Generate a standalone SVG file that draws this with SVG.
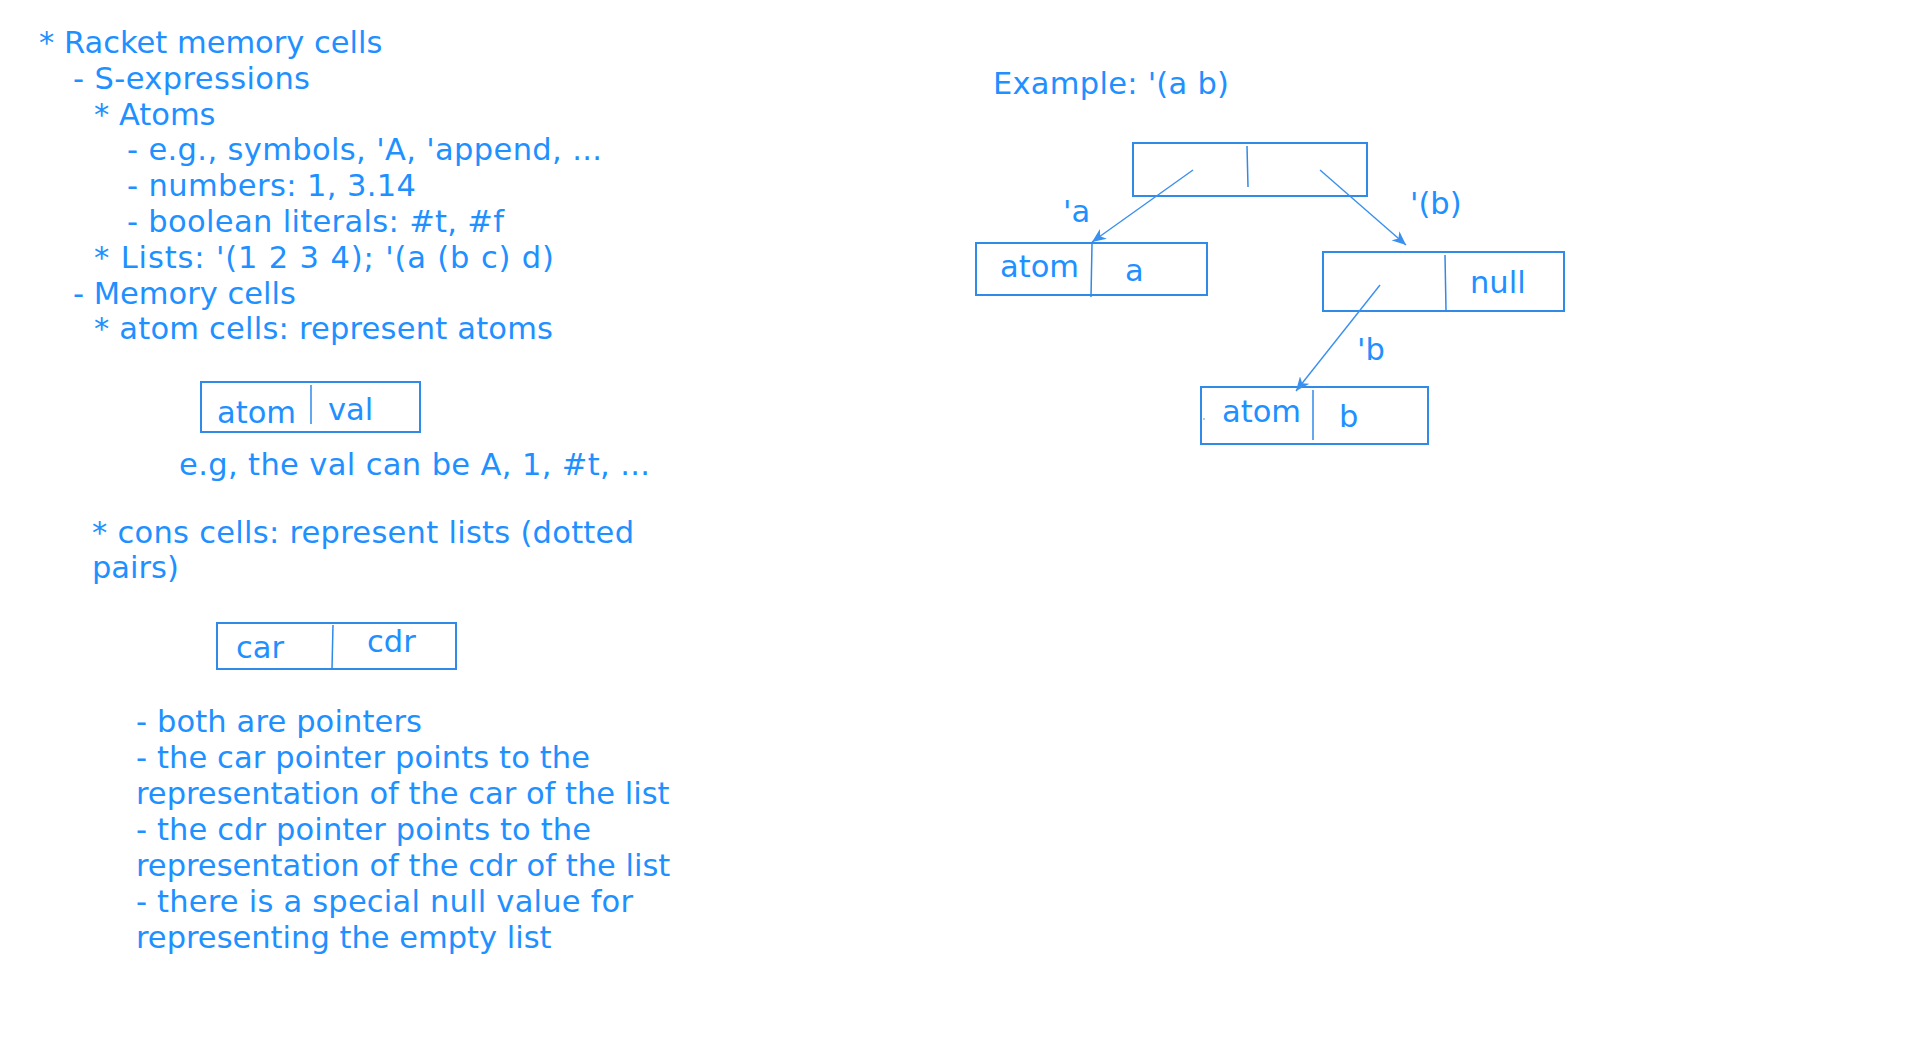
<svg xmlns="http://www.w3.org/2000/svg" width="1920" height="1051" viewBox="0 0 1920 1051">
<style>
text{font-family:"DejaVu Sans","Verdana",sans-serif;font-size:30.5px;fill:#1e90ff}
.box{fill:none;stroke:#2f8ae8;stroke-width:2}
.div{fill:none;stroke:#2f8ae8;stroke-width:1.5}
.arr{fill:none;stroke:#3a90ee;stroke-width:1.4}
</style>
<defs>
<marker id="ah" markerUnits="userSpaceOnUse" markerWidth="16" markerHeight="12" refX="14" refY="6" orient="auto">
<path d="M0,0 L14,6 L0,12 L4,6 z" fill="#3a90ee"/>
</marker>
</defs>
<rect width="1920" height="1051" fill="#ffffff"/>
<g id="notes">
<text x="39" y="53">* Racket memory cells</text>
<text x="73" y="89" textLength="237">- S-expressions</text>
<text x="94" y="125">* Atoms</text>
<text x="127" y="160" textLength="475">- e.g., symbols, 'A, 'append, ...</text>
<text x="127" y="196" textLength="289">- numbers: 1, 3.14</text>
<text x="127" y="232" textLength="377">- boolean literals: #t, #f</text>
<text x="94" y="268" textLength="460">* Lists: '(1 2 3 4); '(a (b c) d)</text>
<text x="73" y="304">- Memory cells</text>
<text x="94" y="339" textLength="459">* atom cells: represent atoms</text>
<text x="179" y="475" textLength="471">e.g, the val can be A, 1, #t, ...</text>
<text x="92" y="543" textLength="542">* cons cells: represent lists (dotted</text>
<text x="92" y="578">pairs)</text>
<text x="136" y="732" textLength="286">- both are pointers</text>
<text x="136" y="768" textLength="454">- the car pointer points to the</text>
<text x="136" y="804">representation of the car of the list</text>
<text x="136" y="840" textLength="455">- the cdr pointer points to the</text>
<text x="136" y="876">representation of the cdr of the list</text>
<text x="136" y="912" textLength="497">- there is a special null value for</text>
<text x="136" y="948">representing the empty list</text>
</g>
<g id="atom-cell">
<rect class="box" x="201" y="382" width="219" height="50"/>
<line class="div" x1="311" y1="385" x2="311" y2="424"/>
<text x="217" y="423">atom</text>
<text x="328" y="420">val</text>
</g>
<g id="cons-cell">
<rect class="box" x="217" y="623" width="239" height="46"/>
<line class="div" x1="333" y1="625" x2="332" y2="669"/>
<text x="236" y="658">car</text>
<text x="367" y="652">cdr</text>
</g>
<g id="example-title">
<text x="993" y="94" textLength="236">Example: '(a b)</text>
</g>
<g id="cons-ab">
<rect class="box" x="1133" y="143" width="234" height="53"/>
<line class="div" x1="1247" y1="146" x2="1248" y2="187"/>
</g>
<g id="atom-a">
<rect class="box" x="976" y="243" width="231" height="52"/>
<line class="div" x1="1092" y1="244" x2="1091" y2="297"/>
<text x="1000" y="277">atom</text>
<text x="1125" y="281">a</text>
</g>
<g id="cons-b-null">
<rect class="box" x="1323" y="252" width="241" height="59"/>
<line class="div" x1="1445" y1="255" x2="1446" y2="310"/>
<text x="1470" y="293">null</text>
</g>
<g id="atom-b">
<rect class="box" x="1201" y="387" width="227" height="57"/>
<line class="div" x1="1313" y1="390" x2="1313" y2="440"/>
<circle cx="1204" cy="419" r="0.8" fill="#3a90ee"/>
<text x="1222" y="422">atom</text>
<text x="1339" y="427">b</text>
</g>
<g id="connectors">
<line class="arr" x1="1193" y1="170" x2="1092" y2="242" marker-end="url(#ah)"/>
<line class="arr" x1="1320" y1="170" x2="1406" y2="245" marker-end="url(#ah)"/>
<line class="arr" x1="1380" y1="285" x2="1296" y2="391" marker-end="url(#ah)"/>
</g>
<g id="labels">
<text x="1063" y="222">'a</text>
<text x="1410" y="214">'(b)</text>
<text x="1357" y="360">'b</text>
</g>
</svg>
